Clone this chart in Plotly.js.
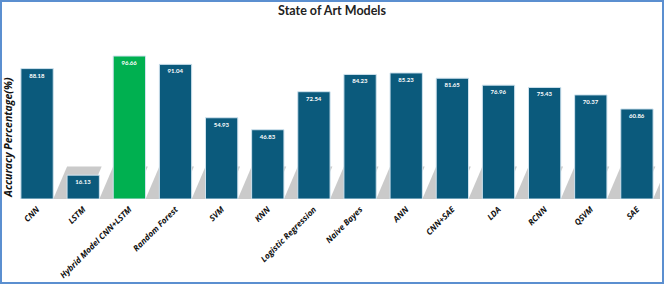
<!DOCTYPE html>
<html><head><meta charset="utf-8">
<script src="https://cdn.plot.ly/plotly-3.0.1.min.js"></script>
<style>
html,body{margin:0;padding:0;background:#fff;}
#chart{width:664px;height:284px;box-sizing:border-box;border:2px solid #5b8fd0;}
</style></head>
<body><div id="chart"></div>
<script>
const categories = ["CNN","LSTM","Hybrid Model CNN+LSTM","Random Forest","SVM","KNN","Logistic Regression","Naive Bayes","ANN","CNN+SAE","LDA","RCNN","QSVM","SAE"];
const accuracy = [88.18,16.13,96.66,91.04,54.93,46.83,72.54,84.23,85.23,81.65,76.96,75.43,70.37,60.86];
const highlight = "Hybrid Model CNN+LSTM";

const colors = categories.map(c => c === highlight ? "#00b050" : "#0b5a7c");
const halfW = 0.35, shadowDx = 0.3, shadowH = 22, shadowW = 0.75;
const shapes = categories.map((c, i) => ({
  type: "path", xref: "x", yref: "y", layer: "below",
  path: `M ${i+halfW} 0 L ${i+halfW+shadowW} 0 L ${i+halfW+shadowW+shadowDx} ${shadowH} L ${i+halfW+shadowDx} ${shadowH} Z`,
  fillcolor: "rgba(150,150,150,0.5)", line: {width: 0}
}));

const trace = {
  type: "bar", x: categories.map((c,i)=>i), y: accuracy,
  marker: {color: colors, line: {color: "#cfe2ee", width: 1}},
  width: 0.7,
  text: accuracy.map(v => "<b>" + v.toFixed(2) + "</b>"),
  textposition: "inside", insidetextanchor: "end", textangle: 0,
  textfont: {family: "Lato", size: 6, color: "#ffffff"},
  cliponaxis: false, hoverinfo: "skip"
};

const layout = {
  width: 660, height: 280,
  margin: {l: 12, r: 2, t: 38, b: 83},
  paper_bgcolor: "#fff", plot_bgcolor: "#fff",
  showlegend: false,
  title: {text: "<b>State of Art Models</b>", x: 0.5, xanchor: "center", y: 0.985, yanchor: "top",
          font: {family: "Lato", size: 12.5, color: "#222"}},
  xaxis: {
    tickmode: "array", tickvals: categories.map((c,i)=>i), ticktext: categories.map(c => "<b><i>" + c + "</i></b>"),
    range: [-0.5, categories.length - 0.5],
    tickangle: -45, ticks: "", showline: false, showgrid: false, zeroline: false,
    ticklabelstandoff: 3,
    tickfont: {family: "Open Sans", size: 8.3, color: "#111"}
  },
  yaxis: {range: [0, 107.5], showticklabels: false, ticks: "", showgrid: false, zeroline: false, showline: false},
  shapes: shapes,
  annotations: [{
    text: "<b><i>Accuracy Percentage(%)</i></b>", xref: "paper", yref: "paper",
    x: -0.009, y: 0.387, xanchor: "center", yanchor: "middle", textangle: -90, showarrow: false,
    font: {family: "Open Sans", size: 10.5, color: "#111"}
  }]
};

Plotly.newPlot("chart", [trace], layout, {displayModeBar: false, staticPlot: true});
</script></body></html>
